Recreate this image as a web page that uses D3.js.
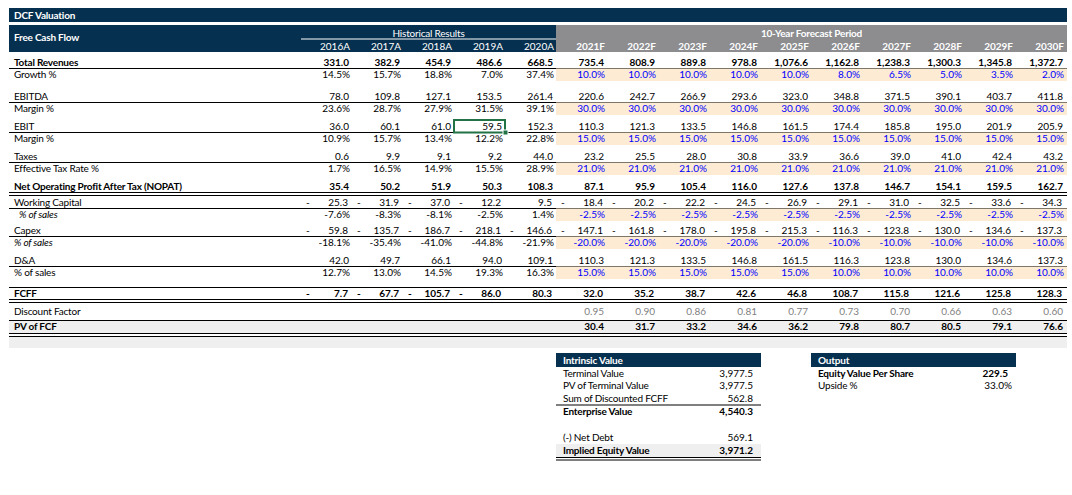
<!DOCTYPE html>
<html><head><meta charset="utf-8">
<script src="https://cdn.jsdelivr.net/npm/d3@7"></script>
<style>body{margin:0;background:#fff} text{font-family:Lato,'Open Sans',sans-serif;font-size:10px;} text.lab{letter-spacing:-0.2px}</style>
</head><body><svg id="c" width="1072" height="495"></svg>
<script>
// ---------- DATA ----------
const years = ['2016A','2017A','2018A','2019A','2020A','2021F','2022F','2023F','2024F','2025F','2026F','2027F','2028F','2029F','2030F'];
const revenues = [331.0,382.9,454.9,486.6,668.5,735.4,808.9,889.8,978.8,1076.6,1162.8,1238.3,1300.3,1345.8,1372.7];
const growth = [14.5,15.7,18.8,7.0,37.4,10.0,10.0,10.0,10.0,10.0,8.0,6.5,5.0,3.5,2.0];
const ebitda = [78.0,109.8,127.1,153.5,261.4,220.6,242.7,266.9,293.6,323.0,348.8,371.5,390.1,403.7,411.8];
const ebitdaMargin = [23.6,28.7,27.9,31.5,39.1,30.0,30.0,30.0,30.0,30.0,30.0,30.0,30.0,30.0,30.0];
const ebit = [36.0,60.1,61.0,59.5,152.3,110.3,121.3,133.5,146.8,161.5,174.4,185.8,195.0,201.9,205.9];
const ebitMargin = [10.9,15.7,13.4,12.2,22.8,15.0,15.0,15.0,15.0,15.0,15.0,15.0,15.0,15.0,15.0];
const taxes = [0.6,9.9,9.1,9.2,44.0,23.2,25.5,28.0,30.8,33.9,36.6,39.0,41.0,42.4,43.2];
const taxRate = [1.7,16.5,14.9,15.5,28.9,21.0,21.0,21.0,21.0,21.0,21.0,21.0,21.0,21.0,21.0];
const nopat = [35.4,50.2,51.9,50.3,108.3,87.1,95.9,105.4,116.0,127.6,137.8,146.7,154.1,159.5,162.7];
const workingCapital = [-25.3,-31.9,-37.0,-12.2,9.5,-18.4,-20.2,-22.2,-24.5,-26.9,-29.1,-31.0,-32.5,-33.6,-34.3];
const wcPct = [-7.6,-8.3,-8.1,-2.5,1.4,-2.5,-2.5,-2.5,-2.5,-2.5,-2.5,-2.5,-2.5,-2.5,-2.5];
const capex = [-59.8,-135.7,-186.7,-218.1,-146.6,-147.1,-161.8,-178.0,-195.8,-215.3,-116.3,-123.8,-130.0,-134.6,-137.3];
const capexPct = [-18.1,-35.4,-41.0,-44.8,-21.9,-20.0,-20.0,-20.0,-20.0,-20.0,-10.0,-10.0,-10.0,-10.0,-10.0];
const da = [42.0,49.7,66.1,94.0,109.1,110.3,121.3,133.5,146.8,161.5,116.3,123.8,130.0,134.6,137.3];
const daPct = [12.7,13.0,14.5,19.3,16.3,15.0,15.0,15.0,15.0,15.0,10.0,10.0,10.0,10.0,10.0];
const fcff = [-7.7,-67.7,-105.7,-86.0,80.3,32.0,35.2,38.7,42.6,46.8,108.7,115.8,121.6,125.8,128.3];
const discountFactor = [null,null,null,null,null,0.95,0.90,0.86,0.81,0.77,0.73,0.70,0.66,0.63,0.60];
const pvFcf = [null,null,null,null,null,30.4,31.7,33.2,34.6,36.2,79.8,80.7,80.5,79.1,76.6];
const ivLabels = ['Terminal Value','PV of Terminal Value','Sum of Discounted FCFF','Enterprise Value','(-) Net Debt','Implied Equity Value'];
const ivValues = [3977.5,3977.5,562.8,4540.3,569.1,3971.2];
const outLabels = ['Equity Value Per Share','Upside %'];
const outValues = [229.5,33.0];

// ---------- LAYOUT ----------
const NAVY='#06304f', GREY='#8d8d90', BEIGE='#fdebd3', BLUE='#0000ff', LIGHT='#efefef', GREEN='#217346';
const L=9, R=1067;
const svg=d3.select('#c');
svg.append('rect').attr('width',1072).attr('height',495).attr('fill','#fff');
const x=d3.scaleBand().domain(years).range([301,1066]);
const bw=x.bandwidth();
const isFc=y=>y.endsWith('F');
const hy=s=>s.replace(/\u2212/g,'-');
const fNum=v=>hy(d3.format(',.1f')(v)), fPct=v=>hy(d3.format('.1f')(v))+'%', fDf=d3.format('.2f');

const rows=[
 {label:'Total Revenues',values:revenues,fmt:'num',bold:true,h:12,line:'single'},
 {label:'Growth %',values:growth,fmt:'pct',input:true,h:12},
 {spacer:10},
 {label:'EBITDA',values:ebitda,fmt:'num',h:12,line:'single'},
 {label:'Margin %',values:ebitdaMargin,fmt:'pct',input:true,h:12},
 {spacer:7},
 {label:'EBIT',values:ebit,fmt:'num',h:11,line:'single',select:'2019A'},
 {label:'Margin %',values:ebitMargin,fmt:'pct',input:true,h:12},
 {spacer:7},
 {label:'Taxes',values:taxes,fmt:'num',h:11,line:'single'},
 {label:'Effective Tax Rate %',values:taxRate,fmt:'pct',input:true,h:12},
 {spacer:7},
 {label:'Net Operating Profit After Tax (NOPAT)',values:nopat,fmt:'num',bold:true,h:11,line:'double'},
 {spacer:5},
 {label:'Working Capital',values:workingCapital,fmt:'acct',h:11,line:'single'},
 {label:'% of sales',values:wcPct,fmt:'pct',input:true,italic:true,indent:5,h:12},
 {spacer:5},
 {label:'Capex',values:capex,fmt:'acct',h:11,line:'single'},
 {label:'% of sales',values:capexPct,fmt:'pct',input:true,italic:true,h:12},
 {spacer:6},
 {label:'D&A',values:da,fmt:'num',h:12,line:'single'},
 {label:'% of sales',values:daPct,fmt:'pct',input:true,h:12},
 {spacer:9,lineAfter:true},
 {label:'FCFF',values:fcff,fmt:'acct',bold:true,h:12,line:'double'},
 {spacer:4},
 {label:'Discount Factor',values:discountFactor,fmt:'df',h:17,line:'single',grey:true},
 {label:'PV of FCF',values:pvFcf,fmt:'num',bold:true,h:13,line:'double',bg:true},
];
let cy=56;
rows.forEach(r=>{r.top=cy; cy+= (r.spacer!==undefined? r.spacer : r.h); r.bottom=cy;});

// title bar
svg.append('rect').attr('x',L).attr('y',8).attr('width',R-L).attr('height',14).attr('fill',NAVY);
svg.append('text').attr('class','lab').attr('x',14).attr('y',18.5).attr('fill','#fff').attr('font-weight','bold').text('DCF Valuation');
// header
const histEnd=x(years[5]);
svg.append('rect').attr('x',L).attr('y',25).attr('width',histEnd-L).attr('height',27).attr('fill',NAVY);
svg.append('rect').attr('x',histEnd).attr('y',25).attr('width',R-histEnd).attr('height',27).attr('fill',GREY);
svg.append('text').attr('class','lab').attr('x',14).attr('y',41).attr('fill','#fff').attr('font-weight','bold').text('Free Cash Flow');
svg.append('line').attr('x1',x(years[0])).attr('x2',histEnd).attr('y1',39).attr('y2',39).attr('stroke','#fff').attr('stroke-width',1);
svg.append('text').attr('class','lab').attr('x',(x(years[0])+histEnd)/2).attr('y',36.5).attr('text-anchor','middle').attr('fill','#fff').text('Historical Results');
svg.append('text').attr('class','lab').attr('x',(histEnd+R)/2).attr('y',36.5).attr('text-anchor','middle').attr('fill','#fff').attr('font-weight','bold').text('10-Year Forecast Period');
svg.selectAll('text.yr').data(years).join('text').attr('class','yr')
 .attr('x',d=>x(d)+bw-2).attr('y',49.5).attr('text-anchor','end').attr('fill','#fff')
 .attr('font-weight',d=>isFc(d)?'bold':'normal').text(d=>d);

// PV band background
const pvRow=rows[rows.length-1];
svg.append('rect').attr('x',L).attr('y',pvRow.top).attr('width',R-L).attr('height',pvRow.h).attr('fill',LIGHT);
svg.append('rect').attr('x',L).attr('y',pvRow.bottom+3).attr('width',R-L).attr('height',12).attr('fill',LIGHT);

const g=svg.append('g');
rows.forEach(r=>{
  if(r.spacer!==undefined){
    if(r.lineAfter) g.append('line').attr('x1',L).attr('x2',R).attr('y1',r.bottom+0.5).attr('y2',r.bottom+0.5).attr('stroke','#000');
    return;
  }
  const base=(r.top+r.bottom)/2+3.5;
  if(r.input){
    g.append('rect').attr('x',histEnd).attr('y',r.top+0.5).attr('width',R-histEnd).attr('height',r.h+0.5).attr('fill',BEIGE);
  }
  g.append('text').attr('class','lab').attr('x',14+(r.indent||0)).attr('y',base).attr('fill','#000')
   .attr('font-weight',r.bold?'bold':'normal').attr('font-style',r.italic?'italic':'normal').text(r.label);
  const cells=years.map((y,i)=>({y,v:r.values[i]})).filter(d=>d.v!==null);
  cells.forEach(d=>{
    let txt, pad=3;
    if(r.fmt==='pct'){txt=fPct(d.v); pad=2;}
    else if(r.fmt==='df'){txt=fDf(d.v);}
    else if(r.fmt==='acct'){txt=fNum(Math.abs(d.v)); pad=4;
      if(d.v<0) g.append('text').attr('x',x(d.y)+5).attr('y',base).attr('fill','#000').attr('font-weight',r.bold?'bold':'normal').text('-');}
    else txt=fNum(d.v);
    const col = r.grey? '#7f7f7f' : (r.input && isFc(d.y) ? BLUE : '#000');
    g.append('text').attr('x',x(d.y)+bw-pad).attr('y',base).attr('text-anchor','end').attr('fill',col)
     .attr('font-weight',r.bold?'bold':'normal').text(txt);
  });
  if(r.line==='single'){
    g.append('line').attr('x1',L).attr('x2',R).attr('y1',r.bottom+0.5).attr('y2',r.bottom+0.5).attr('stroke','#000');
  } else if(r.line==='double'){
    [0.5,3.5].forEach(o=>g.append('line').attr('x1',L).attr('x2',R).attr('y1',r.bottom+o).attr('y2',r.bottom+o).attr('stroke','#000'));
  }
  if(r.select){
    const sx=x(r.select);
    g.append('rect').attr('x',sx).attr('y',r.top-1).attr('width',bw).attr('height',r.h+1.5).attr('fill','none').attr('stroke',GREEN).attr('stroke-width',2);
    g.append('rect').attr('x',sx+bw-2).attr('y',r.bottom-2).attr('width',5).attr('height',5).attr('fill',GREEN).attr('stroke','#fff').attr('stroke-width',1);
  }
});

// summary boxes
function box(x0,x1,title,labels,values,fmts,rowsY,opts){
  svg.append('rect').attr('x',x0).attr('y',353).attr('width',x1-x0).attr('height',14).attr('fill',NAVY);
  svg.append('text').attr('class','lab').attr('x',x0+7).attr('y',363.5).attr('fill','#fff').attr('font-weight','bold').text(title);
  labels.forEach((lab,i)=>{
    const o=opts[i]||{};
    const c=rowsY[i];
    if(o.bg) svg.append('rect').attr('x',x0).attr('y',c-6.5).attr('width',x1-x0).attr('height',13).attr('fill',LIGHT);
    svg.append('text').attr('class','lab').attr('x',x0+7).attr('y',c+3.5).attr('font-weight',o.bold?'bold':'normal').text(lab);
    svg.append('text').attr('x',x1-(o.rp||8)).attr('y',c+3.5).attr('text-anchor','end').attr('font-weight',o.bold?'bold':'normal').text(fmts[i](values[i]));
    if(o.line==='single') svg.append('line').attr('x1',x0).attr('x2',x1).attr('y1',c+7).attr('y2',c+7).attr('stroke','#000');
    if(o.line==='double') [7,9.5].forEach(d=>svg.append('line').attr('x1',x0).attr('x2',x1).attr('y1',c+d).attr('y2',c+d).attr('stroke','#000'));
  });
}
box(556,761,'Intrinsic Value',ivLabels,ivValues,ivValues.map(()=>fNum),[373,385.5,398,411,437.5,450.5],
  [{},{},{line:'single'},{bold:true},{line:'single'},{bold:true,bg:true,line:'double'}]);
box(811,1016,'Output',outLabels,outValues,[fNum,fPct],[373,385.5],[{bold:true},{rp:4}]);
</script></body></html>
